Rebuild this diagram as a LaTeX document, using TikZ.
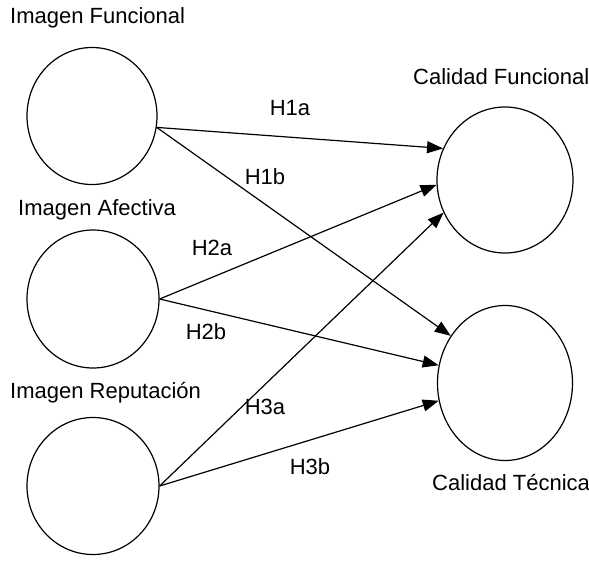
\documentclass[tikz,border=0pt]{standalone}
\usepackage{fontspec}
\setmainfont{Liberation Sans}
\usetikzlibrary{shapes.geometric,arrows.meta}
\begin{document}
\begin{tikzpicture}[x=1pt,y=-1pt,
  latent/.style={draw,ellipse,line width=1.2pt,inner sep=0pt},
  lbl/.style={anchor=west,inner sep=0pt,font=\fontsize{22}{25}\selectfont},
  hyp/.style={inner sep=0pt,font=\fontsize{22}{25}\selectfont},
  path/.style={line width=1.2pt,-{Triangle[length=16pt,width=12pt]}}]
\useasboundingbox (0,0) rectangle (589,560);
\node[latent,minimum width=130pt,minimum height=137pt] (c1) at (92,116) {};
\node[latent,minimum width=132pt,minimum height=138pt] (c2) at (93,299) {};
\node[latent,minimum width=132pt,minimum height=137pt] (c3) at (93,486) {};
\node[latent,minimum width=136pt,minimum height=146pt] (r1) at (505,180) {};
\node[latent,minimum width=135pt,minimum height=155pt] (r2) at (505,383) {};
\node[lbl] (t1) at (10,18) {Imagen Funcional};
\node[lbl] (t2) at (18,210) {Imagen Afectiva};
\node[lbl] (t3) at (10,393) {Imagen Reputación};
\node[lbl] (t4) at (413,77) {Calidad Funcional};
\node[lbl] (t5) at (432,483) {Calidad Técnica};
\draw[path] (c1.-10) -- (r1.153);
\draw[path] (c1.-10) -- (r2.139);
\draw[path] (c2.east) -- (r1.184);
\draw[path] (c2.east) -- (r2.165);
\draw[path] (c3.east) -- (r1.208);
\draw[path] (c3.east) -- (r2.195);
\node[hyp] (h1a) at (290,108) {H1a};
\node[hyp] (h1b) at (265,177) {H1b};
\node[hyp] (h2a) at (212,248) {H2a};
\node[hyp] (h2b) at (206,332) {H2b};
\node[hyp] (h3a) at (265,407) {H3a};
\node[hyp] (h3b) at (310,467) {H3b};
\end{tikzpicture}
\end{document}
